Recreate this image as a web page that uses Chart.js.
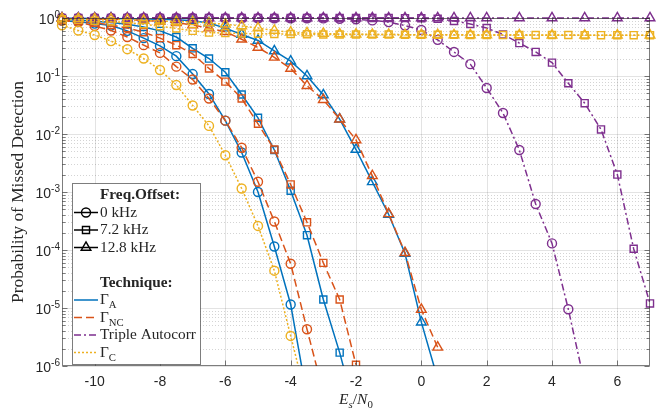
<!DOCTYPE html>
<html>
<head>
<meta charset="utf-8">
<script src="https://cdn.jsdelivr.net/npm/chart.js@4.4.1/dist/chart.umd.min.js"></script>
<style>
    html, body { margin: 0; padding: 0; background: #fff; }
    #wrap { width: 657px; height: 410px; }
</style>
</head>
<body>
<div id="wrap"><canvas id="myChart" width="657" height="410"></canvas></div>
<script>
// Eixo x (Es/N0) - grade completa e grade mais esparsa (triângulos das curvas planas)
const esn0 = [-11, -10.5, -10, -9.5, -9, -8.5, -8, -7.5, -7, -6.5, -6, -5.5, -5, -4.5, -4, -3.5, -3, -2.5, -2, -1.5, -1, -0.5, 0, 0.5, 1, 1.5, 2, 2.5, 3, 3.5, 4, 4.5, 5, 5.5, 6, 6.5, 7];
const esn0Sparse = [-11, -10.5, -10, -9.5, -9, -8.5, -8, -7.5, -7, -6.5, -6, -5.5, -5, -4.5, -4, -3.5, -3, -2.5, -2, -1.5, -1, -0.5, 0, 0.5, 1, 1.5, 2, 3, 4, 5, 6, 7];

// Gamma_A
const gammaA_0k = [0.9, 0.86, 0.8, 0.74, 0.6, 0.45, 0.33, 0.22, 0.108, 0.049, 0.017, 0.0048, 1.0e-3, 1.15e-4, 1.15e-5, 3e-7];
const gammaA_7k = [0.95, 0.92, 0.88, 0.84, 0.78, 0.7, 0.6, 0.47, 0.30, 0.20, 0.116, 0.048, 0.019, 0.0053, 1.05e-3, 1.8e-4, 1.4e-5, 1.7e-6, 1.5e-7];
const gammaA_12k = [0.99, 0.99, 0.98, 0.98, 0.97, 0.96, 0.95, 0.93, 0.9, 0.82, 0.67, 0.52, 0.41, 0.27, 0.18, 0.10, 0.047, 0.018, 0.0054, 0.0015, 4.1e-4, 8.7e-5, 5.7e-6, 6e-7];

// Gamma_NC
const gammaNC_0k = [0.9, 0.85, 0.73, 0.61, 0.47, 0.34, 0.25, 0.145, 0.087, 0.041, 0.017, 0.0058, 0.0015, 3.1e-4, 5.8e-5, 4.3e-6, 3.5e-7];
const gammaNC_7k = [0.92, 0.88, 0.83, 0.76, 0.67, 0.57, 0.45, 0.34, 0.24, 0.135, 0.08, 0.041, 0.015, 0.0054, 1.35e-3, 3.0e-4, 6e-5, 1.4e-5, 1.05e-6];
const gammaNC_12k = [0.98, 0.97, 0.96, 0.95, 0.93, 0.91, 0.88, 0.83, 0.76, 0.67, 0.58, 0.43, 0.31, 0.21, 0.135, 0.068, 0.039, 0.018, 0.0079, 0.0019, 4.2e-4, 9e-5, 9.4e-6, 2.1e-6];

// Triple Autocorr
const triple_0k = [1, 1, 1, 1, 1, 1, 1, 1, 1, 0.995, 0.995, 0.99, 0.99, 0.99, 0.99, 0.99, 0.985, 0.97, 0.95, 0.91, 0.85, 0.74, 0.62, 0.42, 0.26, 0.16, 0.062, 0.023, 0.0053, 6.2e-4, 1.3e-4, 9.5e-6, 5e-7];
const triple_7k = [1, 1, 1, 1, 1, 1, 1, 1, 1, 1, 1, 1, 1, 1, 1, 1, 1, 1, 0.998, 0.997, 0.996, 0.995, 0.99, 0.97, 0.89, 0.79, 0.67, 0.52, 0.37, 0.26, 0.17, 0.075, 0.034, 0.012, 0.002, 1.05e-4, 1.2e-5];
const triple_12k = [1, 1, 1, 1, 1, 1, 1, 1, 1, 1, 1, 1, 1, 1, 1, 1, 1, 1, 1, 1, 1, 1, 1, 1, 1, 1, 1, 1, 1, 1, 1, 1];

// Gamma_C
const gammaC_0k = [0.75, 0.61, 0.51, 0.40, 0.29, 0.20, 0.127, 0.070, 0.031, 0.0138, 0.0043, 1.15e-3, 2.6e-4, 4.4e-5, 3.3e-6, 2.5e-7];
const gammaC_7k = [0.95, 0.93, 0.9, 0.87, 0.83, 0.78, 0.72, 0.66, 0.6, 0.56, 0.55, 0.54, 0.535, 0.53, 0.53, 0.525, 0.52, 0.52, 0.52, 0.52, 0.52, 0.515, 0.515, 0.515, 0.515, 0.51, 0.51, 0.51, 0.51, 0.51, 0.51, 0.51, 0.505, 0.505, 0.505, 0.505, 0.505];
const gammaC_12k = [0.98, 0.97, 0.96, 0.95, 0.93, 0.91, 0.89, 0.87, 0.86, 0.82, 0.78, 0.73, 0.67, 0.61, 0.57, 0.55, 0.54, 0.53, 0.525, 0.52, 0.52, 0.515, 0.515, 0.515, 0.51, 0.51, 0.51, 0.51, 0.505, 0.505, 0.505, 0.505];

// Ticks
const xTicks = [-10, -8, -6, -4, -2, 0, 2, 4, 6];
const yExponents = [-6, -5, -4, -3, -2, -1, 0];

const colors = { A: '#0072BD', NC: '#D95319', T: '#7E2F8E', C: '#EDB120' };
const dashes = { A: [], NC: [8, 4], T: [7, 3, 2, 3], C: [2, 2] };
const order = { A: 4, NC: 3, T: 2, C: 1 };
const markerRadius = { circle: 4.5, rect: 5, triangle: 5.6 };

const SANS = '"Liberation Sans", Arial, Helvetica, sans-serif';
const SERIF = '"Liberation Serif", "Times New Roman", serif';
const AXIS_COLOR = 'rgba(38,38,38,0.6)';
const TEXT_COLOR = '#262626';

function series(tech, marker, xs, ys) {
    return {
        data: ys.map((y, i) => ({ x: xs[i], y: y })),
        borderColor: colors[tech],
        borderWidth: 1.5,
        borderDash: dashes[tech],
        pointStyle: marker,
        pointRadius: markerRadius[marker],
        pointBorderColor: colors[tech],
        pointBackgroundColor: 'rgba(0,0,0,0)',
        pointBorderWidth: 1.4,
        tension: 0,
        order: order[tech],
        clip: { left: 6, top: 8, right: 8, bottom: 0 }
    };
}

const datasets = [
    series('A', 'circle', esn0, gammaA_0k),
    series('A', 'rect', esn0, gammaA_7k),
    series('A', 'triangle', esn0, gammaA_12k),
    series('NC', 'circle', esn0, gammaNC_0k),
    series('NC', 'rect', esn0, gammaNC_7k),
    series('NC', 'triangle', esn0, gammaNC_12k),
    series('T', 'circle', esn0, triple_0k),
    series('T', 'rect', esn0, triple_7k),
    series('T', 'triangle', esn0Sparse, triple_12k),
    series('C', 'circle', esn0, gammaC_0k),
    series('C', 'rect', esn0, gammaC_7k),
    series('C', 'triangle', esn0Sparse, gammaC_12k)
];

function drawMarker(ctx, style, x, y, r) {
    ctx.beginPath();
    if (style === 'circle') {
        ctx.arc(x, y, r, 0, Math.PI * 2);
    } else if (style === 'rect') {
        const s = r * Math.SQRT1_2;
        ctx.rect(x - s, y - s, 2 * s, 2 * s);
    } else {
        let rad = 0;
        ctx.moveTo(x + Math.sin(rad) * r, y - Math.cos(rad) * r);
        rad += 2 * Math.PI / 3;
        ctx.lineTo(x + Math.sin(rad) * r, y - Math.cos(rad) * r);
        rad += 2 * Math.PI / 3;
        ctx.lineTo(x + Math.sin(rad) * r, y - Math.cos(rad) * r);
        ctx.closePath();
    }
    ctx.stroke();
}

function hline(ctx, x1, x2, y) {
    ctx.beginPath(); ctx.moveTo(x1, y); ctx.lineTo(x2, y); ctx.stroke();
}
function vline(ctx, x, y1, y2) {
    ctx.beginPath(); ctx.moveTo(x, y1); ctx.lineTo(x, y2); ctx.stroke();
}

// texto com subscritos: partes [{t, sub, italic}]
function drawRich(ctx, parts, x, baseline, size, weight) {
    let cx = x;
    parts.forEach(p => {
        const s = p.sub ? size * 0.7 : size;
        ctx.font = `${p.italic ? 'italic ' : ''}${weight || ''} ${s}px ${SERIF}`;
        ctx.fillText(p.t, cx, baseline + (p.sub ? size * 0.25 : 0));
        cx += ctx.measureText(p.t).width;
    });
    return cx - x;
}

function measureRich(ctx, parts, size) {
    let w = 0;
    parts.forEach(p => {
        const s = p.sub ? size * 0.7 : size;
        ctx.font = `${p.italic ? 'italic ' : ''}${s}px ${SERIF}`;
        w += ctx.measureText(p.t).width;
    });
    return w;
}

function fitSize(ctx, text, family, target) {
    ctx.font = `20px ${family}`;
    return 20 * target / ctx.measureText(text).width;
}

const legendRows = [
    { head: 'Freq.Offset:' },
    { parts: [{ t: '0 kHz' }], marker: 'circle' },
    { parts: [{ t: '7.2 kHz' }], marker: 'rect' },
    { parts: [{ t: '12.8 kHz' }], marker: 'triangle' },
    null,
    { head: 'Technique:' },
    { parts: [{ t: 'Γ' }, { t: 'A', sub: true }], tech: 'A' },
    { parts: [{ t: 'Γ' }, { t: 'NC', sub: true }], tech: 'NC' },
    { parts: [{ t: 'Triple Autocorr' }], tech: 'T' },
    { parts: [{ t: 'Γ' }, { t: 'C', sub: true }], tech: 'C' }
];

const framePlugin = {
    id: 'frame',
    beforeDraw(chart) {
        const ctx = chart.ctx;
        ctx.save();
        ctx.fillStyle = '#fff';
        ctx.fillRect(0, 0, chart.width, chart.height);
        ctx.restore();
    },
    beforeDatasetsDraw(chart) {
        const ctx = chart.ctx;
        const { left, right, top, bottom } = chart.chartArea;
        const xs = chart.scales.x, ys = chart.scales.y;
        ctx.save();
        ctx.lineWidth = 1;
        // grade menor (log)
        ctx.strokeStyle = 'rgba(38,38,38,0.2)';
        ctx.setLineDash([1, 2]);
        yExponents.slice(0, -1).forEach(e => {
            for (let m = 2; m <= 9; m++) {
                const py = Math.round(ys.getPixelForValue(m * Math.pow(10, e))) + 0.5;
                hline(ctx, left, right, py);
            }
        });
        // grade maior
        ctx.setLineDash([]);
        ctx.strokeStyle = 'rgba(38,38,38,0.13)';
        yExponents.forEach(e => {
            const py = Math.round(ys.getPixelForValue(Math.pow(10, e))) + 0.5;
            hline(ctx, left, right, py);
        });
        xTicks.forEach(v => {
            const px = Math.round(xs.getPixelForValue(v)) + 0.5;
            vline(ctx, px, top, bottom);
        });
        ctx.restore();
    },
    afterDatasetsDraw(chart) {
        const ctx = chart.ctx;
        const { left, right, top, bottom } = chart.chartArea;
        const xs = chart.scales.x, ys = chart.scales.y;
        ctx.save();

        // caixa e ticks
        ctx.strokeStyle = AXIS_COLOR;
        ctx.lineWidth = 1;
        ctx.setLineDash([]);
        const L = Math.round(left) + 0.5, R = Math.round(right) - 0.5;
        const T = Math.round(top) + 0.5, B = Math.round(bottom) - 0.5;
        ctx.strokeRect(L, T, R - L, B - T);
        xTicks.forEach(v => {
            const px = Math.round(xs.getPixelForValue(v)) + 0.5;
            vline(ctx, px, B, B - 5);
            vline(ctx, px, T, T + 5);
        });
        yExponents.forEach((e, i) => {
            const py = Math.round(ys.getPixelForValue(Math.pow(10, e))) + 0.5;
            hline(ctx, L, L + 5, py);
            hline(ctx, R, R - 5, py);
            if (i < yExponents.length - 1) {
                for (let m = 2; m <= 9; m++) {
                    const pm = Math.round(ys.getPixelForValue(m * Math.pow(10, e))) + 0.5;
                    hline(ctx, L, L + 3, pm);
                    hline(ctx, R, R - 3, pm);
                }
            }
        });

        // rótulos dos ticks
        ctx.fillStyle = TEXT_COLOR;
        ctx.font = `14px ${SANS}`;
        ctx.textAlign = 'center';
        ctx.textBaseline = 'middle';
        xTicks.forEach(v => {
            ctx.fillText(String(v), xs.getPixelForValue(v), 382);
        });
        ctx.textAlign = 'left';
        yExponents.forEach(e => {
            const py = ys.getPixelForValue(Math.pow(10, e));
            ctx.font = `14px ${SANS}`;
            const w10 = ctx.measureText('10').width;
            ctx.font = `10px ${SANS}`;
            const wExp = ctx.measureText(String(e)).width;
            const x0 = 60 - w10 - wExp;
            ctx.font = `14px ${SANS}`;
            ctx.fillText('10', x0, py + 1.7);
            ctx.font = `10px ${SANS}`;
            ctx.fillText(String(e), x0 + w10, py - 2.5);
        });

        // título do eixo y
        const yTitle = 'Probability of Missed Detection';
        const ySize = fitSize(ctx, yTitle, SERIF, 222);
        ctx.save();
        ctx.translate(18.5, 192);
        ctx.rotate(-Math.PI / 2);
        ctx.font = `${ySize}px ${SERIF}`;
        ctx.textAlign = 'center';
        ctx.textBaseline = 'middle';
        ctx.fillText(yTitle, 0, 0);
        ctx.restore();

        // título do eixo x: Es/N0
        ctx.textBaseline = 'alphabetic';
        ctx.textAlign = 'left';
        const xParts = [
            { t: 'E', italic: true }, { t: 's', italic: true, sub: true },
            { t: '/' }, { t: 'N', italic: true }, { t: '0', sub: true }
        ];
        const wX = measureRich(ctx, xParts, 15.5);
        drawRich(ctx, xParts, (left + right) / 2 - wX / 2, 404, 15.5);

        // legenda
        const bx = 72.5, by = 183.5, bw = 128, bh = 181;
        ctx.fillStyle = '#fff';
        ctx.fillRect(bx, by, bw, bh);
        ctx.strokeStyle = AXIS_COLOR;
        ctx.strokeRect(bx, by, bw, bh);
        const lSize = fitSize(ctx, 'Triple Autocorr', SERIF, 96);
        legendRows.forEach((row, i) => {
            if (!row) return;
            const cy = 195 + i * 17.5;
            ctx.fillStyle = TEXT_COLOR;
            if (row.head) {
                ctx.font = `bold ${lSize}px ${SERIF}`;
                ctx.fillText(row.head, 100, cy + 4.2);
                return;
            }
            drawRich(ctx, row.parts, 100, cy + 4.2, lSize);
            ctx.lineWidth = 1.5;
            if (row.marker) {
                ctx.strokeStyle = '#000';
                ctx.setLineDash([]);
                hline(ctx, 74, 98, cy);
                ctx.lineWidth = 1.4;
                drawMarker(ctx, row.marker, 86, cy, markerRadius[row.marker]);
            } else {
                ctx.strokeStyle = colors[row.tech];
                ctx.setLineDash(dashes[row.tech]);
                hline(ctx, 74, 98, cy);
                ctx.setLineDash([]);
            }
        });
        ctx.restore();
    }
};

let chart;
function initChart() {
    const ctx = document.getElementById('myChart').getContext('2d');
    chart = new Chart(ctx, {
        type: 'line',
        data: { datasets: datasets },
        options: {
            responsive: false,
            animation: false,
            events: [],
            layout: { padding: { top: 18, right: 4, left: 0, bottom: 0 } },
            plugins: {
                legend: { display: false },
                tooltip: { enabled: false }
            },
            scales: {
                x: {
                    type: 'linear', min: -11, max: 7,
                    grid: { display: false }, border: { display: false },
                    ticks: { display: false },
                    afterFit: s => { s.height = 44; }
                },
                y: {
                    type: 'logarithmic', min: 1e-6, max: 1,
                    grid: { display: false }, border: { display: false },
                    ticks: { display: false },
                    afterFit: s => { s.width = 62; }
                }
            }
        },
        plugins: [framePlugin]
    });
}

initChart();
</script>
</body>
</html>
